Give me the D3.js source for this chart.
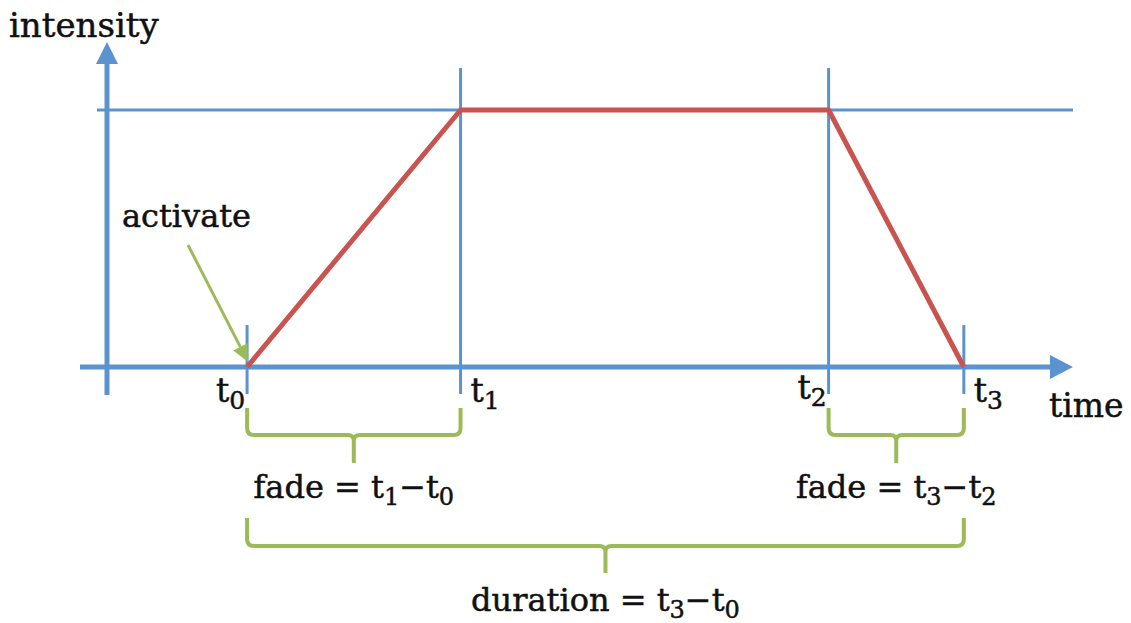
<!DOCTYPE html>
<html>
<head>
    <meta charset="UTF-8">
    <title>Fade envelope</title>
    <script src="https://cdn.jsdelivr.net/npm/d3@7"></script>
    <style>
        body { margin: 0; background: #fff; }
        text { font-family: "DejaVu Serif", serif; fill: #111; stroke: #111; stroke-width: 0.5px; }
    </style>
</head>
<body>
<svg id="chart" width="1131" height="623"></svg>
<script>
    // key times (arbitrary time units) and intensity at each of them
    var keyNames = ["0", "1", "2", "3"];
    var keyTimes = [14.5, 36.6, 74.7, 88.7];
    var keyIntensity = [0, 1, 1, 0];

    // braces: from key, to key, label text and the two subscripts
    var braceFrom = [0, 2, 0];
    var braceTo = [1, 3, 3];
    var braceLabels = ["fade = ", "fade = ", "duration = "];
    var braceSubA = ["1", "3", "3"];
    var braceSubB = ["0", "2", "0"];
    var braceRow = [0, 0, 1];

    var blue = "#5b93d0", red = "#c9544f", green = "#9bbb59";

    var svg = d3.select("#chart");

    var x = d3.scaleLinear().domain([0, 100]).range([107, 1073]);
    var y = d3.scaleLinear().domain([0, 1]).range([367, 110]);

    // --- reference lines (top level + vertical markers)
    svg.append("line")
        .attr("x1", x(0) - 10).attr("x2", x(100))
        .attr("y1", y(1)).attr("y2", y(1))
        .attr("stroke", blue).attr("stroke-width", 3);

    keyTimes.forEach(function (t, i) {
        var top = keyIntensity[i] === 1 ? y(1) - 42 : y(0) - 42;
        svg.append("line")
            .attr("x1", x(t)).attr("x2", x(t))
            .attr("y1", top).attr("y2", y(0) + 27)
            .attr("stroke", blue).attr("stroke-width", 3);
    });

    // --- axes
    svg.append("line")
        .attr("x1", x(0)).attr("x2", x(0))
        .attr("y1", y(0) + 28).attr("y2", 60)
        .attr("stroke", blue).attr("stroke-width", 5);
    svg.append("path")
        .attr("d", "M" + x(0) + ",42 L" + (x(0) - 11) + ",64 L" + (x(0) + 11) + ",64 Z")
        .attr("fill", blue);

    svg.append("line")
        .attr("x1", x(0) - 27).attr("x2", x(100) - 20)
        .attr("y1", y(0)).attr("y2", y(0))
        .attr("stroke", blue).attr("stroke-width", 5);
    svg.append("path")
        .attr("d", "M" + x(100) + "," + y(0) + " L" + (x(100) - 23) + "," + (y(0) - 12) +
            " L" + (x(100) - 23) + "," + (y(0) + 12) + " Z")
        .attr("fill", blue);

    // --- intensity envelope
    var line = d3.line()
        .x(function (d) { return x(d[0]); })
        .y(function (d) { return y(d[1]); });
    svg.append("path")
        .datum(d3.zip(keyTimes, keyIntensity))
        .attr("d", line)
        .attr("fill", "none")
        .attr("stroke", red)
        .attr("stroke-width", 5)
        .attr("stroke-linejoin", "round");

    // --- axis labels
    svg.append("text").attr("x", 9).attr("y", 37)
        .style("font-size", "34px").text("intensity");
    svg.append("text").attr("x", 1049).attr("y", 417)
        .style("font-size", "33px").text("time");

    // t labels: t0, t2 left of marker, t1, t3 right of it
    keyTimes.forEach(function (t, i) {
        var right = (i === 1 || i === 3);
        var txt = svg.append("text")
            .attr("x", right ? x(t) + 10 : x(t) - 2)
            .attr("y", i === 2 ? 399 : 402)
            .attr("text-anchor", right ? "start" : "end")
            .style("font-size", "33px");
        txt.append("tspan").text("t");
        txt.append("tspan").attr("dy", 7).style("font-size", "25px").text(keyNames[i]);
    });

    // --- activate annotation
    svg.append("text").attr("x", 122).attr("y", 227)
        .style("font-size", "32px").text("activate");
    var ax0 = 188, ay0 = 245, ax1 = x(keyTimes[0]) + 1, ay1 = y(0) - 5;
    var ang = Math.atan2(ay1 - ay0, ax1 - ax0);
    var hl = 17, hw = 8;
    var bx = ax1 - hl * Math.cos(ang), by = ay1 - hl * Math.sin(ang);
    svg.append("line")
        .attr("x1", ax0).attr("y1", ay0)
        .attr("x2", bx).attr("y2", by)
        .attr("stroke", green).attr("stroke-width", 3);
    svg.append("path")
        .attr("d", "M" + ax1 + "," + ay1 +
            " L" + (bx + hw * Math.sin(ang)) + "," + (by - hw * Math.cos(ang)) +
            " L" + (bx - hw * Math.sin(ang)) + "," + (by + hw * Math.cos(ang)) + " Z")
        .attr("fill", green);

    // --- braces
    function bracePath(x1, x2, yTop, yMid, yTip) {
        var r = 7, r2 = 6, xc = (x1 + x2) / 2;
        return "M" + x1 + "," + yTop +
            " L" + x1 + "," + (yMid - r) +
            " Q" + x1 + "," + yMid + " " + (x1 + r) + "," + yMid +
            " L" + (xc - r2) + "," + yMid +
            " Q" + xc + "," + yMid + " " + xc + "," + (yMid + r2) +
            " L" + xc + "," + yTip +
            " M" + xc + "," + (yMid + r2) +
            " Q" + xc + "," + yMid + " " + (xc + r2) + "," + yMid +
            " L" + (x2 - r) + "," + yMid +
            " Q" + x2 + "," + yMid + " " + x2 + "," + (yMid - r) +
            " L" + x2 + "," + yTop;
    }

    var rows = [
        {top: 408, mid: 435, tip: 463, base: 498},
        {top: 518, mid: 546, tip: 573, base: 611}
    ];

    braceFrom.forEach(function (a, i) {
        var row = rows[braceRow[i]];
        var x1 = x(keyTimes[a]), x2 = x(keyTimes[braceTo[i]]);
        svg.append("path")
            .attr("d", bracePath(x1, x2, row.top, row.mid, row.tip))
            .attr("fill", "none")
            .attr("stroke", green)
            .attr("stroke-width", 4);

        var txt = svg.append("text")
            .attr("x", (x1 + x2) / 2)
            .attr("y", row.base)
            .attr("text-anchor", "middle")
            .style("font-size", "32px");
        txt.append("tspan").text(braceLabels[i] + "t");
        txt.append("tspan").attr("dy", 7).style("font-size", "24px").text(braceSubA[i]);
        txt.append("tspan").attr("dy", -7).text("\u2212t");
        txt.append("tspan").attr("dy", 7).style("font-size", "24px").text(braceSubB[i]);
    });
</script>
</body>
</html>
